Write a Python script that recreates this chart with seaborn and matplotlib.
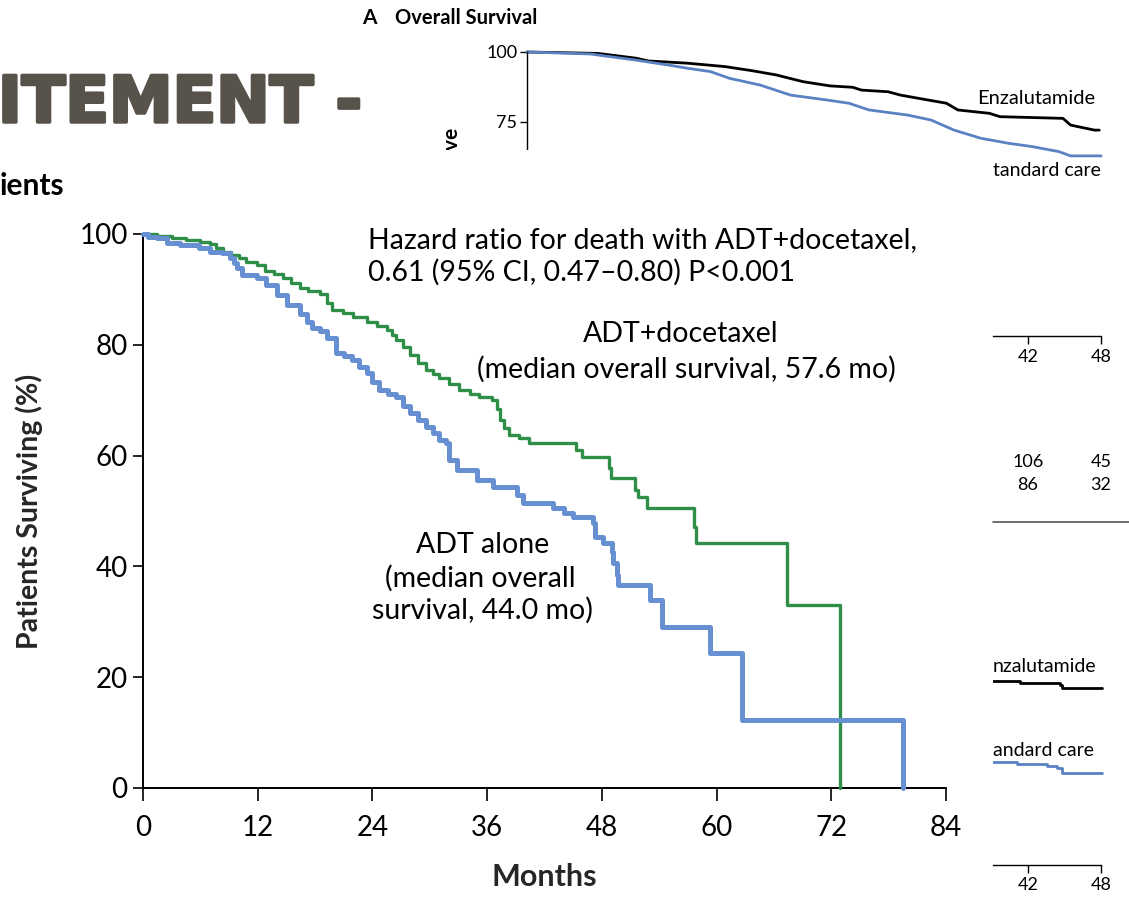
import matplotlib
matplotlib.use('Agg')
import matplotlib.pyplot as plt
import matplotlib.transforms as mtransforms
import matplotlib.patheffects as pe
from matplotlib.patches import Rectangle
from matplotlib.lines import Line2D
import seaborn as sns

W, H = 1129, 898

# --- main chart: overall survival, ADT+docetaxel vs ADT alone (months, % surviving)
doce_months = [0, 1.5, 3.0, 4.5, 6.0, 7.0, 7.6, 8.4, 9.2, 10.0, 10.8, 11.9, 12.8, 13.7,
               14.6, 15.5, 16.4, 17.3, 18.5, 19.3, 19.8, 20.9, 22.0, 23.4, 24.5, 25.5,
               26.0, 26.5, 27.2, 27.9, 28.8, 29.6, 30.3, 31.0, 32.0, 33.1, 34.2, 35.2,
               36.5, 37.0, 37.3, 37.8, 38.3, 39.3, 40.4, 45.3, 45.9, 48.7, 49.0, 51.5,
               51.8, 52.7, 57.6, 57.9, 67.4, 72.9, 72.95]
doce_surv = [100, 99.6, 99.3, 98.9, 98.6, 98.2, 97.4, 96.7, 96.2, 95.7, 95.0, 94.4, 93.4,
             92.7, 92.0, 91.2, 90.3, 89.8, 89.2, 87.5, 86.3, 85.7, 85.0, 84.1, 83.4, 82.7,
             81.8, 80.9, 79.6, 78.2, 76.8, 75.5, 74.8, 74.0, 72.9, 71.8, 71.1, 70.6,
             70.0, 68.4, 66.4, 65.0, 63.7, 63.2, 62.3, 61.0, 59.7, 57.8, 56.0, 53.8,
             52.5, 50.5, 47.1, 44.2, 33.0, 16.4, 0]

adt_months = [0, 0.5, 1.5, 2.5, 3.9, 5.9, 7.0, 8.3, 9.1, 9.5, 9.8, 10.4, 11.9, 12.9, 14.0,
              15.1, 16.4, 17.2, 17.7, 18.5, 19.2, 20.2, 21.0, 21.9, 22.6, 23.4, 24.0,
              24.7, 25.6, 26.5, 27.2, 27.9, 28.8, 29.6, 30.3, 31.0, 31.7, 32.0, 32.8,
              34.9, 36.6, 39.1, 39.7, 42.9, 44.0, 45.0, 47.1, 47.3, 48.1, 49.1, 49.2,
              49.6, 49.7, 53.0, 54.3, 59.3, 62.7, 79.5]
adt_surv = [100, 99.5, 99.2, 98.4, 98.0, 97.5, 96.8, 96.6, 95.7, 94.8, 93.9, 92.6, 92.1,
            90.8, 89.0, 87.2, 85.6, 84.2, 83.0, 82.5, 81.2, 78.6, 77.9, 77.3, 76.0, 74.9,
            73.2, 71.8, 71.2, 70.6, 69.0, 67.7, 66.4, 65.2, 64.0, 62.8, 62.3, 59.2, 57.4,
            55.6, 54.3, 52.9, 51.4, 50.5, 49.6, 48.9, 47.8, 45.3, 44.2, 42.6, 40.6,
            38.4, 36.6, 33.9, 29.1, 24.4, 12.3, 0]

x_ticks = [0, 12, 24, 36, 48, 60, 72, 84]
y_ticks = [0, 20, 40, 60, 80, 100]

# --- background panel (top right): overall survival, enzalutamide vs standard care
enza_months = [0, 7.4, 11.4, 12.7, 16.8, 20.7, 23.6, 26.1, 28.9, 31.7, 34.1, 35.0, 37.8,
               39.1, 41.9, 43.9, 45.1, 48.4, 49.5, 56.1, 56.9, 59.4, 59.9]
enza_surv = [100, 99.5, 97.8, 96.8, 96.0, 94.8, 93.3, 91.8, 89.4, 87.9, 87.4, 86.4, 85.8,
             84.6, 82.9, 81.7, 79.3, 78.1, 76.9, 76.3, 73.9, 72.1, 72.1]
soc_months = [0, 6.6, 11.4, 14.7, 16.8, 19.2, 21.2, 24.4, 27.6, 31.3, 33.7, 35.8, 39.8,
              42.3, 44.7, 47.5, 50.4, 52.9, 55.7, 56.9, 60.1]
soc_surv = [100, 99.3, 97.1, 95.4, 94.2, 93.0, 90.6, 88.2, 84.6, 82.9, 81.7, 79.3, 77.5,
            75.7, 72.1, 69.2, 67.4, 66.2, 64.4, 62.9, 62.9]

# --- fragments visible at the right edge
risk_times = [42, 48]
risk_enza = [106, 45]
risk_soc = [86, 32]
low_enza_months = [39.12, 41.34, 44.63, 44.79, 48.08]
low_enza = [74.6, 73.1, 71.9, 70.0, 70.0]
low_soc_months = [39.12, 41.1, 43.56, 44.38, 44.79, 48.08]
low_soc = [23.75, 22.5, 21.25, 20.0, 16.9, 16.9]

GREEN = '#2f8f48'
BLUE = '#6690d2'
BLUE2 = '#5a82c3'

sns.set_theme(style='ticks')
plt.rcParams['font.family'] = ['Lato', 'DejaVu Sans']
plt.rcParams['text.color'] = 'black'
plt.rcParams['xtick.color'] = 'black'
plt.rcParams['ytick.color'] = 'black'
plt.rcParams['axes.edgecolor'] = 'black'


def box(x0, y0, x1, y1):
    # pixel box -> figure fraction [left, bottom, width, height]
    return [x0 / W, 1 - y1 / H, (x1 - x0) / W, (y1 - y0) / H]


def fy(y):
    return 1 - y / H


def curve(ax, x, y, color, lw, z=2, style='steps-post'):
    sns.lineplot(x=x, y=y, ax=ax, color=color, linewidth=lw, drawstyle=style,
                 estimator=None, sort=False, legend=False, zorder=z)


fig = plt.figure(figsize=(W / 100, H / 100), dpi=100)

# background slide pieces
big = fig.text(-2 / W, fy(122), 'ITEMENT -', family='DejaVu Sans', weight='bold',
               fontsize=46, color='#57534a', ha='left', va='baseline')
big.set_path_effects([pe.withStroke(linewidth=2.5, foreground='#57534a')])
fig.text(362 / W, fy(18), 'A', weight='bold', fontsize=15, ha='left', va='center')
fig.text(395 / W, fy(18), 'Overall Survival', weight='bold', fontsize=14.5,
         ha='left', va='center')
fig.text(452 / W, fy(128), 'Alive', weight='bold', fontsize=15, rotation=90,
         ha='center', va='top', zorder=0.5)

# inset panel behind the main picture
ax_in = fig.add_axes(box(527, 52, 1105, 160), zorder=0)
ax_in.patch.set_alpha(0)
curve(ax_in, enza_months, enza_surv, 'black', 2.0, style='default')
curve(ax_in, soc_months, soc_surv, BLUE2, 2.0, style='default')
for ln in ax_in.lines:
    ln.set_clip_on(False)
ax_in.set_xlim(0, 60.5)
ax_in.set_ylim(100 - 108 / 2.8, 100)
ax_in.set_yticks([75, 100])
ax_in.set_xticks([])
for s in ['top', 'right', 'bottom']:
    ax_in.spines[s].set_visible(False)
ax_in.spines['left'].set_linewidth(1.0)
ax_in.tick_params(axis='y', length=5, width=1.0, labelsize=13, pad=2)
ax_in.set_xlabel('')
ax_in.set_ylabel('')
fig.text(977 / W, fy(98), 'Enzalutamide', fontsize=14.5, ha='left', va='center')
fig.text(993 / W, fy(170), 'tandard care', fontsize=14, ha='left', va='center')

# right-edge fragments: number-at-risk axis and table
ax_tab = fig.add_axes(box(993, 300, 1101, 336), zorder=0)
ax_bot = fig.add_axes(box(993, 830, 1101, 865), zorder=0)
for a in (ax_tab, ax_bot):
    a.patch.set_alpha(0)
    a.set_xlim(39.12, 48.0)
    a.set_ylim(0, 1)
    a.set_xticks(risk_times)
    a.set_xticklabels([str(t) for t in risk_times])
    a.set_yticks([])
    for s in ['top', 'right', 'left']:
        a.spines[s].set_visible(False)
    a.spines['bottom'].set_linewidth(1.0)
    a.tick_params(axis='x', length=6, width=1.0, labelsize=13, pad=3)

tr = mtransforms.blended_transform_factory(ax_tab.transData, fig.transFigure)
for t, a_val, b_val in zip(risk_times, risk_enza, risk_soc):
    ax_tab.text(t, fy(462), str(a_val), transform=tr, ha='center', va='center', fontsize=13)
    ax_tab.text(t, fy(485), str(b_val), transform=tr, ha='center', va='center', fontsize=13)
fig.add_artist(Line2D([993 / W, 1.0], [fy(521.5), fy(521.5)], color='#555555', lw=1.2,
                      transform=fig.transFigure, zorder=0))

ax_low = fig.add_axes(box(993, 640, 1129, 800), zorder=0)
ax_low.patch.set_alpha(0)
curve(ax_low, low_enza_months, low_enza, 'black', 2.0)
curve(ax_low, low_soc_months, low_soc, BLUE2, 2.0)
ax_low.set_xlim(39.12, 50.3)
ax_low.set_ylim(0, 100)
ax_low.axis('off')
fig.text(993 / W, fy(666), 'nzalutamide', fontsize=14, ha='left', va='center')
fig.text(993 / W, fy(750), 'andard care', fontsize=14, ha='left', va='center')

# white picture pasted on top
fig.add_artist(Rectangle((0, 0), 991 / W, fy(150), transform=fig.transFigure,
                         facecolor='white', edgecolor='none', zorder=1))
fig.text(0, fy(186), 'ients', weight='bold', fontsize=21.5, ha='left', va='center', zorder=3)

# main Kaplan-Meier chart
ax = fig.add_axes(box(143, 234, 946, 788), zorder=2)
ax.patch.set_alpha(0)
curve(ax, doce_months, doce_surv, GREEN, 2.4, z=3)
curve(ax, adt_months, adt_surv, BLUE, 3.6, z=4)
for ln in ax.lines:
    ln.set_clip_on(False)
ax.set_xlim(0, 84)
ax.set_ylim(0, 100)
ax.set_xticks(x_ticks)
ax.set_yticks(y_ticks)
sns.despine(ax=ax)
for s in ['left', 'bottom']:
    ax.spines[s].set_linewidth(1.4)
ax.tick_params(axis='x', length=9.5, width=1.2, labelsize=20, pad=10)
ax.tick_params(axis='y', length=7, width=1.2, labelsize=20, pad=4)
ax.set_xlabel('Months', fontsize=22, weight='bold')
ax.set_ylabel('Patients Surviving (%)', fontsize=20.5, weight='bold')
ax.xaxis.set_label_coords(0.5, -0.135)
ax.yaxis.set_label_coords(-0.124, 0.5)

FS = 20.5
ax.text(23.5, 98.9, 'Hazard ratio for death with ADT+docetaxel,', fontsize=FS,
        ha='left', va='center')
ax.text(23.5, 93.1, '0.61 (95% CI, 0.47\u20130.80) P<0.001', fontsize=FS,
        ha='left', va='center')
ax.text(56.2, 81.9, 'ADT+docetaxel', fontsize=FS, ha='center', va='center')
ax.text(56.8, 75.6, '(median overall survival, 57.6 mo)', fontsize=FS,
        ha='center', va='center')
ax.text(35.5, 43.9, 'ADT alone', fontsize=FS, ha='center', va='center')
ax.text(35.3, 37.9, '(median overall', fontsize=FS, ha='center', va='center')
ax.text(35.5, 32.1, 'survival, 44.0 mo)', fontsize=FS, ha='center', va='center')

fig.savefig('out.png', dpi=100, facecolor='white')
